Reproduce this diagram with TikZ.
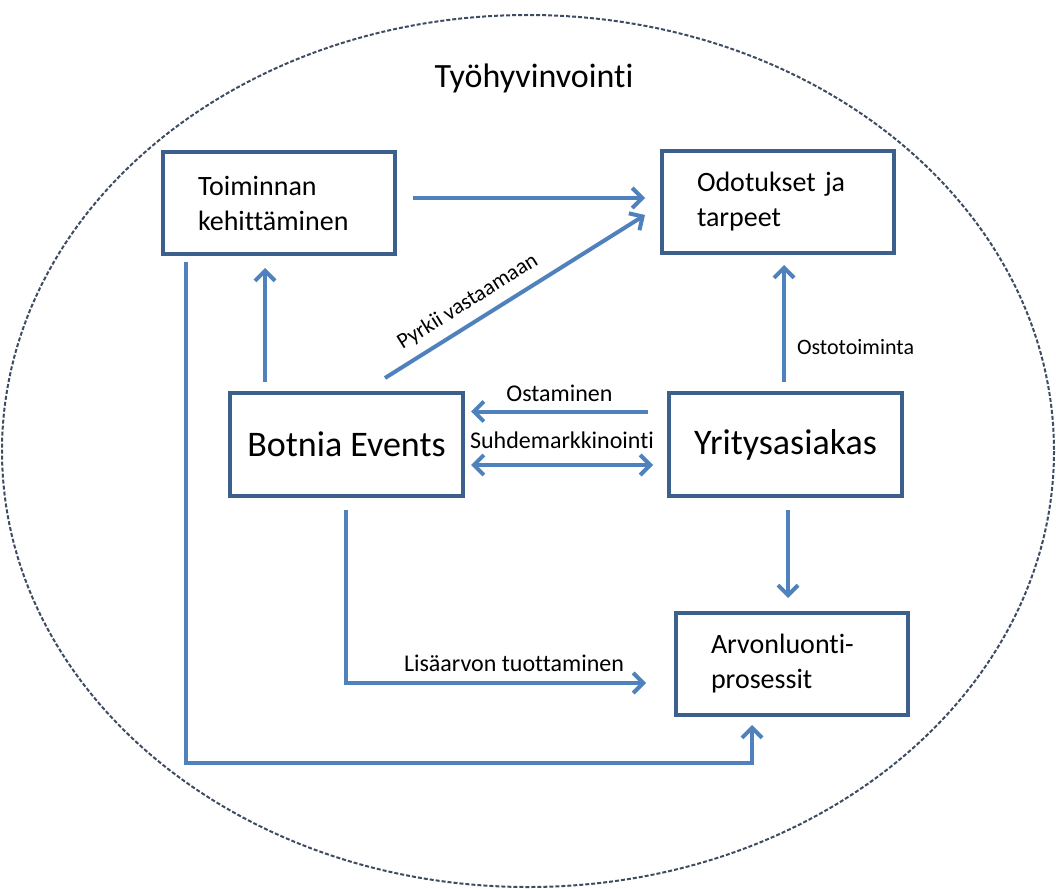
\documentclass[tikz,border=0pt]{standalone}
\usepackage{fontspec}
\setmainfont[RawFeature={-liga;-clig;-calt;-dlig}]{Carlito}
\usetikzlibrary{arrows.meta,calc}
\definecolor{arrowblue}{HTML}{4F81BD}
\definecolor{boxblue}{HTML}{3D5F8C}
\definecolor{ellgray}{HTML}{3E4C62}
\begin{document}
\begin{tikzpicture}[x=1pt,y=-1pt,
  >={Straight Barb[length=10pt,width=20pt,line width=4pt]},
  box/.style={draw=boxblue, line width=4.5pt, fill=white, rectangle, inner sep=0pt, outer sep=0pt},
  smallbox/.style={box, minimum width=232pt, minimum height=102pt, text width=162pt, inner xsep=35pt, align=left, font=\fontsize{28}{35}\selectfont},
  bigbox/.style={box, minimum width=233pt, minimum height=103pt, align=center, font=\fontsize{36}{42}\selectfont},
  arr/.style={draw=arrowblue, line width=4pt, ->},
  darr/.style={draw=arrowblue, line width=4pt, <->},
  lbl/.style={inner sep=0pt, font=\fontsize{24}{28}\selectfont},
  slbl/.style={inner sep=0pt, font=\fontsize{22}{26}\selectfont}]
\useasboundingbox (0,0) rectangle (1056,888);
\fill[white] (0,0) rectangle (1056,888);
% outer ellipse
\draw[ellgray, line width=2pt, dash pattern=on 4pt off 2pt] (528,451) ellipse [x radius=526, y radius=436];
\node[inner sep=0pt, font=\fontsize{34}{40}\selectfont] (title) at (534,78) {Työhyvinvointi};
% boxes
\node[smallbox] (tk) at (279,203) {Toiminnan\\kehittäminen};
\node[smallbox] (ot) at (778,202) {Odotukset ja\\tarpeet};
\node[bigbox] (be) at (346.5,444.5) {Botnia Events};
\node[bigbox] (ya) at (785.5,444.5) {Yritysasiakas};
\node[smallbox] (al) at (792,664) {Arvonluonti-\\prosessit};
% connectors
\draw[arr] ($(tk.east)+(18,-5)$) -- ($(ot.west)+(-17,-4)$);
\draw[arr] ($(be.north)+(-81.5,-11)$) -- ($(tk.south)+(-14,14)$);
\draw[arr] ($(be.north)+(38.5,-15)$) -- node[slbl, pos=0.36, above=9pt, sloped] {Pyrkii vastaamaan} ($(ot.west)+(-17,13)$);
\draw[arr] ($(ya.west)+(-21,-33)$) -- node[lbl, midway, above=8pt] {Ostaminen} ($(be.east)+(8,-33)$);
\draw[darr] ($(be.east)+(8,20.5)$) -- node[lbl, midway, above=14pt] {Suhdemarkkinointi} ($(ya.west)+(-16,20.5)$);
\draw[arr] ($(ya.north)+(-1.5,-11)$) -- node[slbl, pos=0.3, right=11pt] {Ostotoiminta} ($(ot.south)+(6,12)$);
\draw[arr] ($(ya.south)+(2.5,14)$) -- ($(al.north)+(-4,-15)$);
\draw[arr] ($(be.south)+(-0.5,14)$) |- node[lbl, pos=0.78, above=9pt] {Lisäarvon tuottaminen} ($(al.west)+(-30,19)$);
\draw[arr] ($(tk.south)+(-93,8)$) |- ($(al.south)+(-40,48)$) -- ($(al.south)+(-40,10)$);
\end{tikzpicture}
\end{document}
